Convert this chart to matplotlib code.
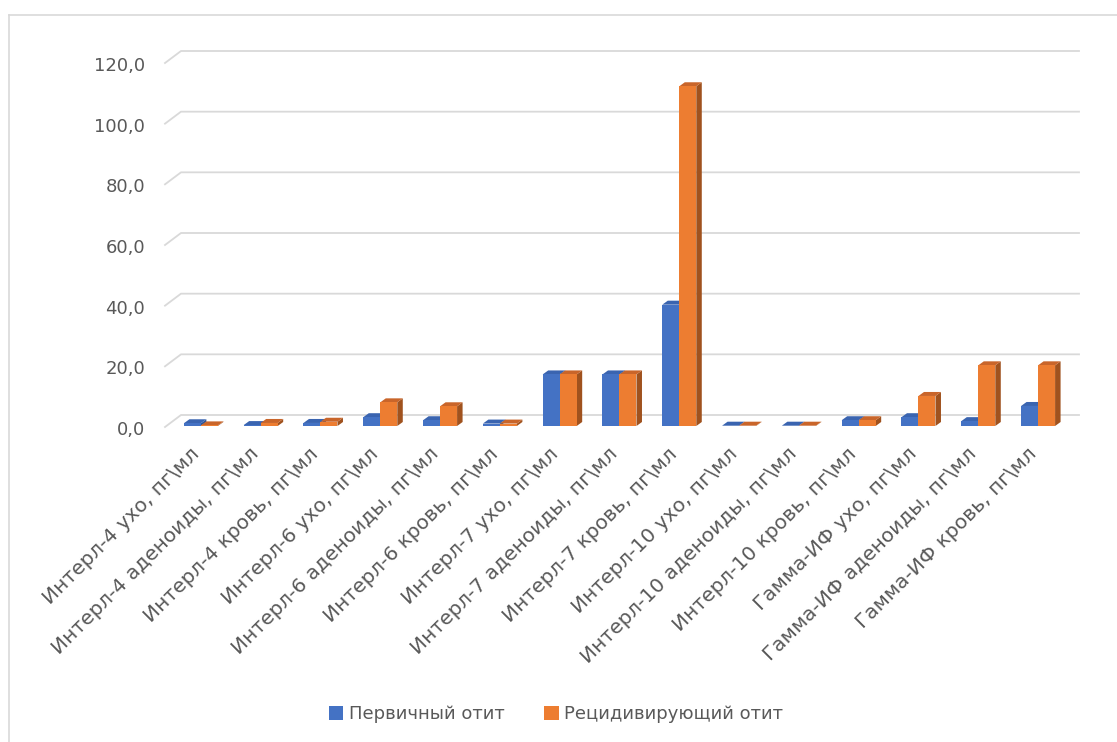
import matplotlib
matplotlib.use('Agg')
import matplotlib.pyplot as plt
from matplotlib.patches import Polygon, Patch
from matplotlib.lines import Line2D
import numpy as np

plt.rcParams['font.family'] = ['DejaVu Sans']

# Категории и значения (пг/мл)
categories = [
    "Интерл-4 ухо, пг\\мл", "Интерл-4 аденоиды, пг\\мл", "Интерл-4 кровь, пг\\мл",
    "Интерл-6 ухо, пг\\мл", "Интерл-6 аденоиды, пг\\мл", "Интерл-6 кровь, пг\\мл",
    "Интерл-7 ухо, пг\\мл", "Интерл-7 аденоиды, пг\\мл", "Интерл-7 кровь, пг\\мл",
    "Интерл-10 ухо, пг\\мл", "Интерл-10 аденоиды, пг\\мл", "Интерл-10 кровь, пг\\мл",
    "Гамма-ИФ ухо, пг\\мл", "Гамма-ИФ аденоиды, пг\\мл", "Гамма-ИФ кровь, пг\\мл",
]
primary = [0.9, 0.3, 1.0, 2.9, 1.9, 0.8, 17.0, 17.0, 40.0, 0.1, 0.1, 1.9, 2.9, 1.6, 6.6]
recurrent = [0.2, 1.0, 1.4, 7.8, 6.5, 0.8, 17.0, 17.0, 112.0, 0.1, 0.1, 1.9, 9.9, 20.0, 20.0]
series_names = ["Первичный отит", "Рецидивирующий отит"]
yticks = [0, 20, 40, 60, 80, 100, 120]

# Цвета: лицевая грань, верх, бок
blue = ('#4472C4', '#3A64B0', '#2F5597')
orange = ('#ED7D31', '#C9652A', '#A0521E')
grid_color = '#D9D9D9'
text_color = '#595959'

W, H = 1117, 742
fig = plt.figure(figsize=(W / 100, H / 100), dpi=100)

# Область построения в пикселях
left_px, right_px = 165, 1062
y0_px, y120_px = 427, 63
ax = fig.add_axes([left_px / W, 1 - y0_px / H, (right_px - left_px) / W, (y0_px - y120_px) / H])
ax.set_xlim(-0.6, 14.4)
ax.set_ylim(0, 120)
ax.axis('off')

px_x = (right_px - left_px) / 15.0   # пикселей на категорию
px_y = (y0_px - y120_px) / 120.0     # пикселей на единицу

# Сетка на задней стенке со скосом слева
gdx, gdy = 16 / px_x, 12 / px_y
x_end = -0.6 + (1079 - left_px) / px_x
for v in yticks:
    ax.plot([-0.6, -0.6 + gdx, x_end], [v, v + gdy, v + gdy],
            color=grid_color, lw=1.3, clip_on=False, zorder=1)
    ax.text(-0.6 - 20 / px_x, v - 3 / px_y, f"{v:.1f}".replace('.', ','),
            ha='right', va='center', fontsize=13, color=text_color)

# Объёмные столбики
bw = 17 / px_x
ddx, ddy = 5.5 / px_x, 4 / px_y
base = 1 / px_y


def bar3d(x0, h, cols):
    x1 = x0 + bw
    y_b, y_t = base, base + h
    front = Polygon([(x0, y_b), (x1, y_b), (x1, y_t), (x0, y_t)], closed=True,
                    facecolor=cols[0], edgecolor='none', zorder=3)
    top = Polygon([(x0, y_t), (x1, y_t), (x1 + ddx, y_t + ddy), (x0 + ddx, y_t + ddy)],
                  closed=True, facecolor=cols[1], edgecolor='none', zorder=3)
    side = Polygon([(x1, y_b), (x1 + ddx, y_b + ddy), (x1 + ddx, y_t + ddy), (x1, y_t)],
                   closed=True, facecolor=cols[2], edgecolor='none', zorder=3)
    for p in (side, top, front):
        ax.add_patch(p)


x = np.arange(len(categories))
for i in x:
    bar3d(i - bw, primary[i], blue)
    bar3d(i, recurrent[i], orange)

# Подписи категорий
for i, lab in zip(x, categories):
    ax.text(i - 0.08, -24 / px_y, lab, rotation=45, rotation_mode='anchor',
            ha='right', va='center', fontsize=14.5, color=text_color, clip_on=False)

# Легенда
handles = [Patch(facecolor=blue[0]), Patch(facecolor=orange[0])]
fig.legend(handles, series_names, loc='center', bbox_to_anchor=(556 / W, 1 - 714 / H),
           ncol=2, frameon=False, fontsize=13, labelcolor=text_color,
           handlelength=0.8, handleheight=0.8, handletextpad=0.3, columnspacing=2.2)

# Рамка диаграммы
fig.add_artist(Line2D([9.5 / W, 9.5 / W], [0, 1 - 15 / H], color=grid_color, lw=1.2))
fig.add_artist(Line2D([9.5 / W, 1], [1 - 15 / H, 1 - 15 / H], color=grid_color, lw=1.2))

fig.savefig('out.png', dpi=100)
